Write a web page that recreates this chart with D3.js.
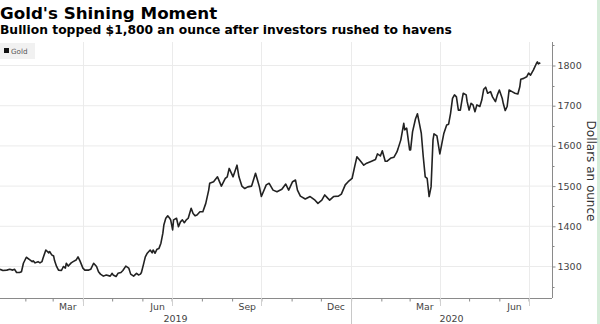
<!DOCTYPE html>
<html><head><meta charset="utf-8">
<script src="https://cdn.jsdelivr.net/npm/d3@7"></script>
<style>body{margin:0;background:#fff}svg{display:block}text{font-family:"DejaVu Sans",sans-serif}</style>
</head><body>
<script>
const dates = ["2019-01-06","2019-01-09","2019-01-13","2019-01-16","2019-01-19","2019-01-21","2019-01-23","2019-01-26","2019-01-28","2019-01-30",
"2019-02-02","2019-02-06","2019-02-08","2019-02-09","2019-02-11","2019-02-14","2019-02-16","2019-02-18","2019-02-19","2019-02-22",
"2019-02-25","2019-02-26","2019-02-28","2019-03-02","2019-03-03","2019-03-05","2019-03-07","2019-03-10","2019-03-12","2019-03-14",
"2019-03-15","2019-03-17","2019-03-20","2019-03-22","2019-03-25","2019-03-27","2019-03-29","2019-04-01","2019-04-03","2019-04-07",
"2019-04-09","2019-04-12","2019-04-15","2019-04-17","2019-04-19","2019-04-22","2019-04-25","2019-04-29","2019-05-01","2019-05-02",
"2019-05-05","2019-05-07","2019-05-10","2019-05-12","2019-05-15","2019-05-18","2019-05-20","2019-05-23","2019-05-26","2019-05-28",
"2019-05-30","2019-05-31","2019-06-02","2019-06-04","2019-06-06","2019-06-09","2019-06-11","2019-06-12","2019-06-14","2019-06-16",
"2019-06-18","2019-06-20","2019-06-22","2019-06-23","2019-06-25","2019-06-27","2019-06-29","2019-06-30","2019-07-02","2019-07-03",
"2019-07-06","2019-07-08","2019-07-10","2019-07-12","2019-07-14","2019-07-16","2019-07-18","2019-07-21","2019-07-23","2019-07-25",
"2019-07-27","2019-07-30","2019-08-02","2019-08-05","2019-08-08","2019-08-09","2019-08-13","2019-08-17","2019-08-21","2019-08-25",
"2019-08-27","2019-08-29","2019-09-02","2019-09-06","2019-09-08","2019-09-11","2019-09-14","2019-09-17","2019-09-21","2019-09-25",
"2019-09-27","2019-09-29","2019-10-01","2019-10-06","2019-10-09","2019-10-13","2019-10-17","2019-10-22","2019-10-26","2019-10-29",
"2019-11-02","2019-11-05","2019-11-07","2019-11-10","2019-11-15","2019-11-20","2019-11-25","2019-11-28","2019-12-02","2019-12-05",
"2019-12-08","2019-12-10","2019-12-14","2019-12-19","2019-12-22","2019-12-26","2019-12-29","2020-01-02","2020-01-05","2020-01-07",
"2020-01-11","2020-01-14","2020-01-17","2020-01-22","2020-01-26","2020-01-28","2020-01-31","2020-02-02","2020-02-05","2020-02-07",
"2020-02-11","2020-02-14","2020-02-17","2020-02-18","2020-02-21","2020-02-24","2020-02-25","2020-02-27","2020-03-01","2020-03-02",
"2020-03-04","2020-03-07","2020-03-09","2020-03-11","2020-03-13","2020-03-15","2020-03-17","2020-03-19","2020-03-21","2020-03-23",
"2020-03-25","2020-03-26","2020-03-29","2020-04-01","2020-04-03","2020-04-05","2020-04-08","2020-04-10","2020-04-12","2020-04-14",
"2020-04-16","2020-04-18","2020-04-20","2020-04-22","2020-04-24","2020-04-25","2020-04-28","2020-04-29","2020-05-01","2020-05-03",
"2020-05-05","2020-05-07","2020-05-09","2020-05-12","2020-05-14","2020-05-16","2020-05-18","2020-05-20","2020-05-23","2020-05-25",
"2020-05-28","2020-05-30","2020-06-01","2020-06-04","2020-06-05","2020-06-07","2020-06-09","2020-06-11","2020-06-14","2020-06-17",
"2020-06-20","2020-06-22","2020-06-23","2020-06-26","2020-06-29","2020-07-01","2020-07-03","2020-07-06","2020-07-09","2020-07-10",
"2020-07-11","2020-07-13"];
const gold = [1293,1290,1291,1293,1291,1293,1285,1285,1287,1308,
1323,1316,1312,1314,1309,1312,1309,1312,1320,1341,
1334,1337,1329,1326,1314,1300,1291,1290,1300,1296,
1308,1301,1309,1312,1316,1324,1314,1296,1291,1291,
1293,1308,1300,1287,1281,1276,1279,1276,1283,1279,
1275,1283,1285,1290,1301,1296,1281,1276,1283,1279,
1281,1285,1304,1324,1333,1341,1334,1341,1333,1343,
1345,1358,1383,1403,1420,1426,1420,1416,1391,1416,
1420,1399,1411,1416,1409,1416,1420,1445,1432,1426,
1428,1436,1436,1457,1490,1507,1511,1523,1500,1519,
1523,1544,1523,1552,1523,1500,1494,1498,1500,1532,
1515,1498,1474,1503,1507,1490,1486,1492,1505,1490,
1511,1515,1490,1475,1468,1474,1465,1457,1465,1478,
1470,1465,1474,1475,1480,1503,1511,1519,1552,1573,
1561,1552,1557,1562,1566,1580,1575,1588,1562,1562,
1570,1572,1585,1592,1615,1656,1640,1644,1590,1590,
1635,1667,1680,1656,1631,1573,1523,1519,1474,1498,
1615,1630,1625,1580,1605,1630,1652,1654,1681,1718,
1727,1722,1689,1689,1718,1731,1727,1710,1689,1706,
1702,1685,1702,1698,1714,1741,1746,1731,1735,1722,
1710,1727,1739,1718,1706,1688,1698,1739,1735,1731,
1729,1747,1766,1768,1772,1781,1776,1789,1805,1809,
1804,1807];
const yTicks = [1300,1400,1500,1600,1700,1800];
const yMinorTicks = [1250,1350,1450,1550,1650,1750,1850];
const monthLabelDates = ["2019-03-16","2019-06-16","2019-09-16","2019-12-16","2020-03-16","2020-06-16"];
const years = [2019, 2020];
const seriesName = "Gold";
const title = "Gold's Shining Moment";
const subtitle = "Bullion topped $1,800 an ounce after investors rushed to havens";
const yTitle = "Dollars an ounce";

const W = 600, H = 324;
const plotL = 0, plotR = 552, plotT = 42, plotB = 298;
const parse = d3.utcParse("%Y-%m-%d");
const data = dates.map((d, i) => ({date: parse(d), value: gold[i]}));

const x = d3.scaleUtc().domain([parse("2019-01-06"), parse("2020-07-25")]).range([plotL, plotR]);
const y = d3.scaleLinear().domain([1221.6, 1858.5]).range([plotB, plotT]);

const svg = d3.select("body").append("svg").attr("width", W).attr("height", H);

// right green edge
svg.append("rect").attr("x", 597).attr("y", 0).attr("width", 3).attr("height", H).attr("fill", "#d5ecd9");

// title
svg.append("text").attr("x", 0).attr("y", 19).attr("font-size", 16.7).attr("font-weight", "bold").attr("fill", "#000").text(title);
svg.append("text").attr("x", 0).attr("y", 34).attr("font-size", 12.3).attr("font-weight", "bold").attr("fill", "#000").text(subtitle);

// gridlines
const g = svg.append("g");
g.selectAll("line.hg").data(yTicks).join("line")
  .attr("x1", plotL).attr("x2", plotR).attr("y1", d => y(d)).attr("y2", d => y(d))
  .attr("stroke", "#ebebeb").attr("stroke-width", 1);
const quarters = d3.utcMonth.every(3).range(x.domain()[0], x.domain()[1]);
g.selectAll("line.vg").data(quarters).join("line")
  .attr("x1", d => Math.round(x(d)) + 0.5).attr("x2", d => Math.round(x(d)) + 0.5)
  .attr("y1", plotT).attr("y2", plotB)
  .attr("stroke", "#ebebeb").attr("stroke-width", 1);

// legend
svg.append("rect").attr("x", 0).attr("y", 43).attr("width", 35).attr("height", 16).attr("fill", "#f1f1f1");
svg.append("rect").attr("x", 4).attr("y", 48).attr("width", 5).attr("height", 5).attr("fill", "#111");
svg.append("text").attr("x", 11).attr("y", 53.5).attr("font-size", 7.2).attr("fill", "#555").text(seriesName);

// x axis: monthly ticks
const xAxisG = svg.append("g").attr("transform", `translate(0,${plotB + 0.5})`)
  .call(d3.axisBottom(x).ticks(d3.utcMonth.every(1)).tickSize(3).tickFormat(""));
xAxisG.select(".domain").attr("stroke", "#8a8a8a").attr("d", `M${plotL},0H${plotR}`);
xAxisG.selectAll(".tick line").attr("stroke", "#8a8a8a");

// quarter ticks longer
svg.selectAll("line.qt").data(quarters).join("line")
  .attr("x1", d => Math.round(x(d)) + 0.5).attr("x2", d => Math.round(x(d)) + 0.5)
  .attr("y1", plotB).attr("y2", d => d.getUTCMonth() === 0 ? H : plotB + 8)
  .attr("stroke", d => d.getUTCMonth() === 0 ? "#c8c8c8" : "#d0d0d0").attr("stroke-width", 1);

// month labels
const mlG = svg.append("g").attr("transform", `translate(0,${plotB})`)
  .call(d3.axisBottom(x).tickValues(monthLabelDates.map(parse)).tickSize(0).tickPadding(5).tickFormat(d3.utcFormat("%b")));
mlG.select(".domain").remove();
mlG.selectAll("text").attr("font-size", 9.3).attr("fill", "#444").attr("font-family", "DejaVu Sans");

// year labels centred in each year's visible span
const yearCenters = years.map(yr => {
  const a = Math.max(x(new Date(Date.UTC(yr, 0, 1))), plotL);
  const b = Math.min(x(new Date(Date.UTC(yr + 1, 0, 1))), plotR);
  return {yr, cx: (a + b) / 2};
});
svg.selectAll("text.yr").data(yearCenters).join("text")
  .attr("x", d => d.cx).attr("y", 322).attr("text-anchor", "middle")
  .attr("font-size", 9.5).attr("fill", "#444").text(d => d.yr);

// y axis
const yAxisG = svg.append("g").attr("transform", `translate(${plotR + 0.5},0)`)
  .call(d3.axisRight(y).tickValues(yTicks).tickSize(3).tickPadding(2).tickFormat(d3.format("d")));
yAxisG.select(".domain").attr("stroke", "#8a8a8a").attr("d", `M0,${plotT}V${plotB}`);
yAxisG.selectAll(".tick line").attr("stroke", "#8a8a8a");
yAxisG.selectAll("text").attr("font-size", 9.5).attr("fill", "#444").attr("font-family", "DejaVu Sans");
svg.append("g").attr("transform", `translate(${plotR + 0.5},0)`)
  .selectAll("line").data(yMinorTicks.filter(v => y(v) >= plotT && y(v) <= plotB)).join("line")
  .attr("x1", 0).attr("x2", 2).attr("y1", d => Math.round(y(d)) + 0.5).attr("y2", d => Math.round(y(d)) + 0.5)
  .attr("stroke", "#8a8a8a");

// y title
svg.append("text").attr("transform", `translate(587,${(plotT + plotB) / 2 + 1}) rotate(90)`)
  .attr("text-anchor", "middle").attr("font-size", 12).attr("fill", "#333").text(yTitle);

// line
const line = d3.line().x(d => x(d.date)).y(d => y(d.value));
svg.append("path").datum(data).attr("d", line).attr("fill", "none")
  .attr("stroke", "#222").attr("stroke-width", 1.6).attr("stroke-linejoin", "round");
</script>
</body></html>
